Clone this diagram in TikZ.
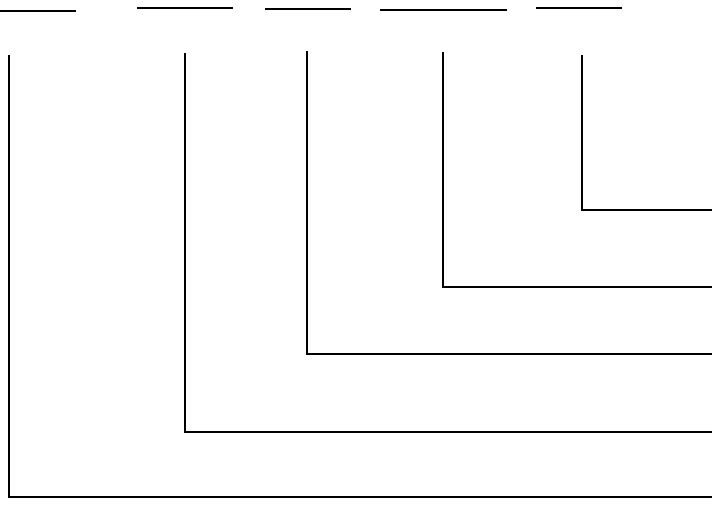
\documentclass[tikz,border=0pt]{standalone}
\usetikzlibrary{positioning}
\begin{document}
\begin{tikzpicture}[x=0.75pt, y=-0.75pt,
  blank/.style={line width=1.4pt},
  blankthin/.style={line width=1pt},
  lead/.style={line width=1.4pt},
  leadthin/.style={line width=0.9pt},
]
  \useasboundingbox (0,0) rectangle (712,513);
  % fill-in blanks along the top
  \coordinate (b1l) at (0,11);   \coordinate (b1r) at (76,11);
  \coordinate (b2l) at (137,8);  \coordinate (b2r) at (233,8);
  \coordinate (b3l) at (265,9);  \coordinate (b3r) at (351,9);
  \coordinate (b4l) at (380,10); \coordinate (b4r) at (507,10);
  \coordinate (b5l) at (536,8);  \coordinate (b5r) at (622,8);
  \draw[blank]     (b1l) -- (b1r);
  \draw[blankthin] (b2l) -- (b2r);
  \draw[blank]     (b3l) -- (b3r);
  \draw[blank]     (b4l) -- (b4r);
  \draw[blankthin] (b5l) -- (b5r);
  % leader lines
  \coordinate (t1) at (9,55);   \coordinate (e1) at (712,497);
  \coordinate (t2) at (185,53); \coordinate (e2) at (712,432);
  \coordinate (t3) at (307,51); \coordinate (e3) at (712,354);
  \coordinate (t4) at (443,52); \coordinate (e4) at (712,287);
  \coordinate (t5) at (582,55); \coordinate (e5) at (712,210);
  \draw[leadthin] (t1) |- (e1);
  \draw[leadthin] (t2) |- (e2);
  \foreach \i in {3,4,5} { \draw[lead] (t\i) |- (e\i); }
\end{tikzpicture}
\end{document}
